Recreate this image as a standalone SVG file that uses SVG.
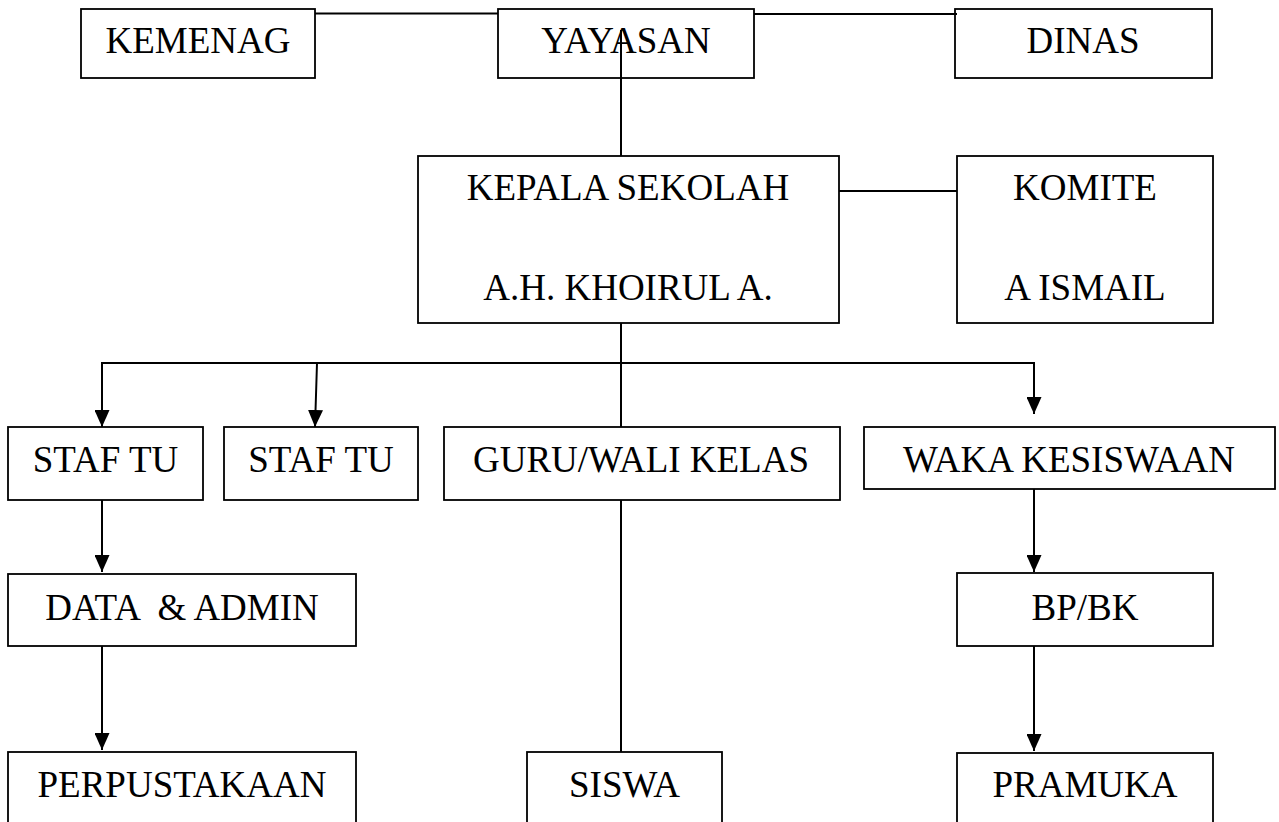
<svg xmlns="http://www.w3.org/2000/svg" width="1279" height="822" viewBox="0 0 1279 822">
<style>
.box{fill:#fff;stroke:#000;stroke-width:1.8}
.t{font-size:37px;fill:#000;text-anchor:middle}
.c{fill:none;stroke:#000;stroke-width:2}
</style>
<defs>
<marker id="ah" markerUnits="userSpaceOnUse" markerWidth="17" markerHeight="15" viewBox="0 0 17 15" refX="17" refY="7.5" orient="auto">
<path d="M0,0 L17,7.5 L0,15 z" fill="#000"/>
</marker>
</defs>
<rect width="1279" height="822" fill="#fff"/>
<g font-family="Liberation Serif, serif">
<g id="n-kemenag"><rect class="box" x="81" y="9" width="234" height="69"/><text class="t" x="198" y="53">KEMENAG</text></g>
<g id="n-yayasan"><rect class="box" x="498" y="9" width="256" height="69"/><text class="t" x="626" y="53">YAYASAN</text></g>
<g id="n-dinas"><rect class="box" x="955" y="9" width="257" height="69"/><text class="t" x="1083" y="53">DINAS</text></g>
<g id="n-kepala"><rect class="box" x="418" y="156" width="421" height="167"/><text class="t" x="628" y="200">KEPALA SEKOLAH</text><text class="t" x="628" y="300">A.H. KHOIRUL A.</text></g>
<g id="n-komite"><rect class="box" x="957" y="156" width="256" height="167"/><text class="t" x="1085" y="200">KOMITE</text><text class="t" x="1085" y="300">A ISMAIL</text></g>
<g id="n-staf1"><rect class="box" x="8" y="427" width="195" height="73"/><text class="t" x="105.5" y="472">STAF TU</text></g>
<g id="n-staf2"><rect class="box" x="224" y="427" width="194" height="73"/><text class="t" x="321" y="472">STAF TU</text></g>
<g id="n-guru"><rect class="box" x="444" y="427" width="396" height="73"/><text class="t" x="641" y="472">GURU/WALI KELAS</text></g>
<g id="n-waka"><rect class="box" x="864" y="427" width="411" height="62"/><text class="t" x="1069" y="472">WAKA KESISWAAN</text></g>
<g id="n-data"><rect class="box" x="8" y="574" width="348" height="72"/><text class="t" x="182" y="620" xml:space="preserve">DATA  &amp; ADMIN</text></g>
<g id="n-bpbk"><rect class="box" x="957" y="573" width="256" height="73"/><text class="t" x="1085" y="620">BP/BK</text></g>
<g id="n-perpus"><rect class="box" x="8" y="752" width="348" height="80"/><text class="t" x="182" y="797">PERPUSTAKAAN</text></g>
<g id="n-siswa"><rect class="box" x="527" y="752" width="195" height="80"/><text class="t" x="624.5" y="797">SISWA</text></g>
<g id="n-pramuka"><rect class="box" x="957" y="753" width="256" height="80"/><text class="t" x="1085" y="797">PRAMUKA</text></g>
</g>
<g id="connectors">
<line class="c" x1="315" y1="13.5" x2="498" y2="13.5"/>
<line class="c" x1="754" y1="14" x2="957" y2="14"/>
<line class="c" x1="621" y1="30" x2="621" y2="156"/>
<line class="c" x1="839" y1="191" x2="957" y2="191"/>
<line class="c" x1="621" y1="323" x2="621" y2="427"/>
<polyline class="c" points="102,427 102,363 1034,363 1034,414" marker-end="url(#ah)"/>
<line class="c" x1="102" y1="380" x2="102" y2="427" marker-end="url(#ah)"/>
<line class="c" x1="317" y1="363" x2="315" y2="427" marker-end="url(#ah)"/>
<line class="c" x1="102" y1="500" x2="102" y2="572" marker-end="url(#ah)"/>
<line class="c" x1="102" y1="646" x2="102" y2="750" marker-end="url(#ah)"/>
<line class="c" x1="621" y1="500" x2="621" y2="752"/>
<line class="c" x1="1034" y1="489" x2="1034" y2="572" marker-end="url(#ah)"/>
<line class="c" x1="1034" y1="646" x2="1034" y2="751" marker-end="url(#ah)"/>
</g>
</svg>
